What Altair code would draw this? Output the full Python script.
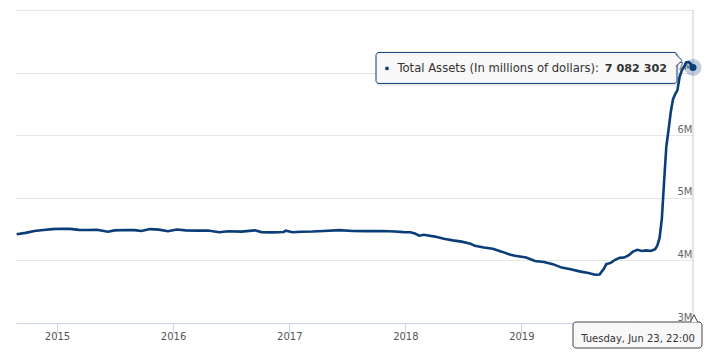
import altair as alt
import pandas as pd

# ---- data (weekly-ish readings, millions of dollars) ----
dates = [
    "2014-08-27", "2014-09-24", "2014-10-22", "2014-11-19", "2014-12-17",
    "2015-01-14", "2015-02-11", "2015-03-11", "2015-04-08", "2015-05-06",
    "2015-05-20", "2015-06-10", "2015-07-01", "2015-08-05", "2015-09-02",
    "2015-09-23", "2015-10-21", "2015-11-18", "2015-12-16", "2016-01-13",
    "2016-02-10", "2016-03-16", "2016-04-20", "2016-05-25", "2016-06-22",
    "2016-08-03", "2016-09-14", "2016-10-05", "2016-11-09", "2016-12-14",
    "2016-12-21", "2017-01-11", "2017-02-08", "2017-03-15", "2017-04-19",
    "2017-06-07", "2017-07-19", "2017-08-30", "2017-10-18", "2017-11-29",
    "2017-12-27", "2018-01-17", "2018-01-31", "2018-02-14", "2018-02-28",
    "2018-04-04", "2018-05-02", "2018-05-30", "2018-06-27", "2018-07-25",
    "2018-08-08", "2018-09-05", "2018-10-03", "2018-10-31", "2018-11-28",
    "2018-12-12", "2019-01-16", "2019-02-13", "2019-03-13", "2019-04-10",
    "2019-05-08", "2019-06-05", "2019-07-03", "2019-07-31", "2019-08-21",
    "2019-09-04", "2019-09-18", "2019-09-25", "2019-10-09", "2019-10-23",
    "2019-11-06", "2019-11-20", "2019-12-04", "2019-12-18", "2020-01-01",
    "2020-01-15", "2020-01-29", "2020-02-12", "2020-02-26", "2020-03-04",
    "2020-03-11", "2020-03-18", "2020-03-25", "2020-04-01", "2020-04-08",
    "2020-04-15", "2020-04-22", "2020-04-29", "2020-05-06", "2020-05-13",
    "2020-05-20", "2020-05-27", "2020-06-03", "2020-06-10", "2020-06-17",
    "2020-06-24",
]
assets = [
    4417000, 4440000, 4470000, 4486000, 4500000,
    4506000, 4503000, 4488000, 4486000, 4490000,
    4478000, 4458000, 4480000, 4486000, 4484000,
    4470000, 4500000, 4492000, 4465000, 4494000,
    4480000, 4475000, 4478000, 4449000, 4465000,
    4460000, 4480000, 4452000, 4448000, 4454000,
    4475000, 4450000, 4458000, 4462000, 4470000,
    4483000, 4470000, 4468000, 4470000, 4462000,
    4452000, 4450000, 4430000, 4395000, 4410000,
    4380000, 4345000, 4320000, 4300000, 4265000,
    4232000, 4205000, 4185000, 4140000, 4090000,
    4075000, 4045000, 3990000, 3975000, 3940000,
    3885000, 3860000, 3825000, 3800000, 3770000,
    3775000, 3870000, 3940000, 3960000, 4010000,
    4040000, 4045000, 4080000, 4140000, 4170000,
    4150000, 4160000, 4150000, 4180000, 4241000,
    4362000, 4666000, 5254000, 5815000, 6083000,
    6368000, 6573000, 6656000, 6721000, 6934000,
    7037000, 7097000, 7165000, 7168000, 7138000,
    7082302,
]
series_name = "Total Assets (In millions of dollars)"
hover_label = "Tuesday, Jun 23, 22:00"
year_ticks = [2015, 2016, 2017, 2018, 2019, 2020]
hidden_year = 2020          # its label sits under the crosshair label
y_ticks = [3000000, 4000000, 5000000, 6000000, 7000000, 8000000]

# ---- styling ----
NAVY = "#0b3d78"
FONT = "DejaVu Sans"

df = pd.DataFrame({"date": dates, "value": assets})
last = df.iloc[[-1]].copy()
last["label"] = series_name + ":"
last["num"] = f"{assets[-1]:,}".replace(",", " ")
last["hover"] = hover_label
last["base"] = y_ticks[0]
last["top"] = y_ticks[-1]

xscale = alt.Scale(
    type="utc",
    domain=[alt.DateTime(year=2014, month=8, date=25, utc=True),
            alt.DateTime(year=2020, month=6, date=24, utc=True)],
)
xaxis = alt.Axis(
    values=[alt.DateTime(year=y, month=1, date=1, utc=True) for y in year_ticks],
    labelExpr=f"utcFormat(datum.value, '%Y') == '{hidden_year}' ? '' : utcFormat(datum.value, '%Y')",
    grid=False, domainColor="#ccd6eb", tickColor="#ccd6eb",
    tickSize=10, labelPadding=-2, labelFontSize=10, labelFont=FONT,
    labelColor="#555555", labelFlush=False, labelOverlap=False,
)
yscale = alt.Scale(domain=[y_ticks[0], y_ticks[-1]], nice=False, zero=False)
yaxis = alt.Axis(
    orient="right", values=y_ticks, domain=False, ticks=False,
    gridColor="#e6e6e6", labelAlign="right", labelPadding=-1,
    labelBaseline="alphabetic", labelOffset=-3, labelFontSize=10,
    labelFont=FONT, labelColor="#666666",
    labelExpr="datum.value >= 8000000 ? '' : (datum.value / 1000000) + 'M'",
)

X = alt.X("date:T", scale=xscale, axis=xaxis, title=None)
Yv = alt.Y("value:Q", scale=yscale, axis=yaxis, title=None)
Yb = alt.Y("base:Q", scale=yscale, axis=yaxis, title=None)

line = alt.Chart(df).mark_line(color=NAVY, strokeWidth=2.6).encode(x=X, y=Yv)

cross = alt.Chart(last).mark_rule(color="#cccccc", strokeWidth=1).encode(
    x=X, y=Yb, y2="top:Q"
)

halo = alt.Chart(last).mark_point(
    shape="circle", filled=True, size=290, color=NAVY, opacity=0.25
).encode(x=X, y=Yv)
dot = alt.Chart(last).mark_point(
    shape="circle", filled=True, size=50, color=NAVY, opacity=1
).encode(x=X, y=Yv)

# ---- tooltip (anchored to the last point) ----
shadow = alt.Chart(last).mark_rect(
    xOffset=-316, x2Offset=-15, yOffset=-14, y2Offset=17,
    fillOpacity=0, stroke="#000000", strokeOpacity=0.08, strokeWidth=3,
    cornerRadius=3,
).encode(x=X, x2="date:T", y=Yv, y2="value:Q")
box = alt.Chart(last).mark_rect(
    xOffset=-317, x2Offset=-16, yOffset=-15, y2Offset=16,
    fill="#f7f7f7", fillOpacity=0.9, stroke=NAVY, strokeWidth=1,
    cornerRadius=3,
).encode(x=X, x2="date:T", y=Yv, y2="value:Q")
pointer = alt.Chart(last).mark_point(
    shape="M-1,-1L0,0L-1,1", filled=True, size=144, fill="#f7f7f7",
    fillOpacity=1, stroke=NAVY, strokeWidth=1, opacity=1,
    xOffset=-11, yOffset=-7,
).encode(x=X, y=Yv)
bullet = alt.Chart(last).mark_point(
    shape="circle", filled=True, size=14, color=NAVY, opacity=1,
    xOffset=-306, yOffset=1,
).encode(x=X, y=Yv)
tip_label = alt.Chart(last).mark_text(
    align="right", baseline="alphabetic", dx=-94, dy=5,
    fontSize=11.6, font=FONT, color="#333333",
).encode(x=X, y=Yv, text="label:N")
tip_num = alt.Chart(last).mark_text(
    align="right", baseline="alphabetic", dx=-26, dy=5,
    fontSize=11.2, font=FONT, fontWeight="bold", color="#333333",
).encode(x=X, y=Yv, text="num:N")

# ---- x crosshair label ----
hbox = alt.Chart(last).mark_rect(
    xOffset=-120, x2Offset=9, yOffset=-1, y2Offset=25,
    fill="#f7f7f7", fillOpacity=0.92, stroke="#444444", strokeWidth=1,
    cornerRadius=3,
).encode(x=X, x2="date:T", y=Yb, y2="base:Q")
hpointer = alt.Chart(last).mark_point(
    shape="M-1,1L0,-1L1,1", filled=True, size=56, fill="#f7f7f7",
    fillOpacity=1, stroke="#444444", strokeWidth=1, opacity=1,
    xOffset=1, yOffset=-4.5,
).encode(x=X, y=Yb)
htext = alt.Chart(last).mark_text(
    align="center", baseline="alphabetic", dx=-55, dy=19,
    fontSize=10, font=FONT, color="#333333",
).encode(x=X, y=Yb, text="hover:N")

chart = alt.layer(
    cross, line, halo, dot, shadow, box, pointer, bullet, tip_label, tip_num,
    hbox, hpointer, htext,
).properties(
    width=677, height=313, autosize="none",
    padding={"left": 8, "top": 2, "right": 14, "bottom": 26},
    background="#ffffff",
).configure_view(stroke=None)

chart.save("out.html", embed_options={"renderer": "svg", "actions": False})
